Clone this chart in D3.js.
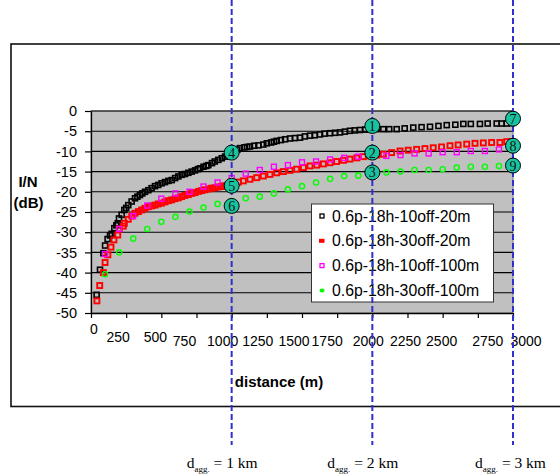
<!DOCTYPE html>
<html lang="en">
<head>
    <meta charset="UTF-8">
    <title>I/N vs distance</title>
    <script src="https://d3js.org/d3.v7.min.js"></script>
    <style>
        body { margin: 0; background: #fff; }
        text { font-family: "Liberation Sans", Arial, sans-serif; }
    </style>
</head>
<body>
</body>

<script>
    // series: distance (m) and I/N (dB)
    var blackDist = [40, 64, 88, 100, 118, 135, 147, 166, 180, 190, 199, 218, 237, 250, 265, 289, 313, 330, 348, 365,
        384, 408, 431, 455, 478, 502, 526, 550, 574, 598, 621, 645, 668, 692, 716, 740, 760, 775, 800, 820,
        834, 860, 880, 905, 930, 953, 975, 1000, 1020, 1040, 1059, 1090, 1110, 1130, 1160, 1190, 1225, 1250, 1280, 1300,
        1320, 1350, 1380, 1415, 1450, 1486, 1520, 1557, 1590, 1628, 1660, 1699, 1735, 1770, 1805, 1841, 1875, 1912, 1950, 1980,
        2030, 2078, 2120, 2173, 2230, 2291, 2350, 2410, 2470, 2529, 2590, 2647, 2700, 2765, 2820, 2884, 2920, 2955, 2990];
    var blackIN = [-45.5, -39.3, -35.2, -33.3, -31.7, -30.8, -30.4, -29, -28.3, -27.8, -26.6, -25.7, -24.5, -24, -23.3, -22.4, -21.6, -21.2, -20.8, -20.4,
        -20, -19.6, -19.1, -18.6, -18.3, -17.9, -17.6, -17.3, -17.1, -16.6, -16.2, -15.8, -15.6, -15.3, -15, -14.7, -14.4, -14.2, -13.8, -13.6,
        -13.4, -12.9, -12.5, -12.1, -11.7, -11.3, -10.9, -10.4, -9.9, -9.6, -9.2, -9.0, -8.9, -8.8, -8.6, -8.5, -8.3, -8.0, -7.8, -7.6,
        -7.4, -7.2, -7.0, -6.8, -6.7, -6.6, -6.3, -6.1, -6.0, -5.8, -5.6, -5.5, -5.4, -5.3, -5.1, -4.9, -4.8, -4.7, -4.6, -4.5,
        -4.5, -4.5, -4.5, -4.5, -4.3, -4.1, -4.0, -3.9, -3.7, -3.5, -3.4, -3.2, -3.2, -3.2, -3.1, -3.1, -3.1, -3.1, -3.0];

    var redDist = [42, 62, 88, 100, 120, 142, 163, 190, 201, 230, 237, 265, 290, 313, 337, 360, 384, 407, 431, 455,
        478, 502, 526, 550, 574, 598, 621, 645, 668, 692, 716, 740, 765, 787, 810, 835, 858, 882, 905, 929,
        952, 976, 1000, 1012, 1048, 1083, 1130, 1178, 1225, 1272, 1320, 1367, 1415, 1462, 1510, 1557, 1605, 1652, 1700, 1746,
        1795, 1841, 1890, 1936, 1985, 2031, 2078, 2137, 2197, 2255, 2315, 2374, 2433, 2492, 2552, 2610, 2671, 2730, 2789, 2848,
        2907, 2955, 2990];
    var redIN = [-47, -43.2, -40, -37.5, -35.6, -33.7, -31.9, -30.7, -29.2, -28.5, -27.8, -26.8, -26, -25.3, -24.9, -24.5, -24.1, -23.7, -23.5, -23.3,
        -23.0, -22.8, -22.5, -22.2, -22, -21.7, -21.5, -21.2, -20.9, -20.7, -20.4, -20.2, -19.9, -19.7, -19.5, -19.3, -19.1, -19.0, -18.8, -18.7,
        -18.5, -18.3, -18.1, -17.9, -17.6, -17.3, -16.9, -16.5, -16.1, -15.7, -15.3, -15, -14.7, -14.4, -14.0, -13.6, -13.4, -13.1, -12.8, -12.5,
        -12.2, -11.9, -11.6, -11.3, -11.1, -10.9, -10.7, -10.3, -9.9, -9.7, -9.5, -9.3, -9.1, -8.9, -8.6, -8.4, -8.2, -8.0, -7.9, -7.8,
        -7.8, -7.6, -7.6];

    var magentaDist = [100, 200, 300, 400, 500, 600, 700, 800, 900, 1000, 1100, 1200, 1300, 1400, 1500,
        1600, 1700, 1800, 1900, 2000, 2100, 2200, 2300, 2400, 2500, 2600, 2700, 2800, 2900];
    var magentaIN = [-35.4, -29.2, -26, -23.4, -21.7, -20.4, -20, -18.7, -17.7, -16.6, -15.5, -14.6, -13.8, -13.4, -12.7,
        -12.5, -12, -11.6, -11.3, -11.2, -11.1, -10.9, -10.5, -10.5, -10.2, -10.2, -9.9, -9.9, -9.5];

    var greenDist = [100, 200, 300, 400, 500, 600, 700, 800, 900, 1000, 1100, 1200, 1300, 1400, 1500,
        1600, 1700, 1800, 1900, 2000, 2100, 2200, 2300, 2400, 2500, 2600, 2700, 2800, 2900];
    var greenIN = [-40.4, -35, -31.6, -29.2, -27.4, -26.2, -24.9, -23.9, -23, -22.3, -21.6, -21.2, -20.4, -19.4, -18.6,
        -17.7, -16.8, -16.1, -16, -15.5, -15.2, -15, -14.6, -14.6, -14.4, -14, -13.8, -13.8, -13.6];

    var seriesNames = ["0.6p-18h-10off-20m", "0.6p-18h-30off-20m", "0.6p-18h-10off-100m", "0.6p-18h-30off-100m"];

    var xTicks = [0, 250, 500, 750, 1000, 1250, 1500, 1750, 2000, 2250, 2500, 2750, 3000];
    var yTicks = [0, -5, -10, -15, -20, -25, -30, -35, -40, -45, -50];

    // aggregation distance markers (km) and numbered callouts
    var aggKm = [1, 2, 3];
    var calloutNum = [1, 2, 3, 4, 5, 6, 7, 8, 9];
    var calloutDist = [2000, 2000, 2000, 1000, 1000, 1000, 3000, 3000, 3000];
    var calloutIN = [-3.7, -10.3, -15.2, -10.3, -18.5, -23.5, -1.9, -8.6, -13.5];

    var width = 560, height = 476;
    var plot = {left: 91, right: 513, top: 111, bottom: 313};

    var svg = d3.select("body").append("svg")
        .attr("width", width)
        .attr("height", height);

    // outer chart frame
    svg.append("rect")
        .attr("x", 11).attr("y", 44)
        .attr("width", 560).attr("height", 362.5)
        .attr("fill", "#fff")
        .attr("stroke", "#111")
        .attr("stroke-width", 1.6);

    var x = d3.scaleLinear().domain([0, 3000]).range([plot.left, plot.right]);
    var y = d3.scaleLinear().domain([-50, 0]).range([plot.bottom, plot.top]);

    // plot area
    svg.append("rect")
        .attr("x", plot.left).attr("y", plot.top)
        .attr("width", plot.right - plot.left).attr("height", plot.bottom - plot.top)
        .attr("fill", "#c0c0c0")
        .attr("stroke", "#808080")
        .attr("stroke-width", 1);

    svg.append("g").selectAll("line")
        .data(yTicks.filter(function (d) { return d !== -50; }))
        .enter().append("line")
        .attr("x1", plot.left).attr("x2", plot.right)
        .attr("y1", function (d) { return y(d); })
        .attr("y2", function (d) { return y(d); })
        .attr("stroke", "#000")
        .attr("stroke-width", 1.1);

    // y axis
    var yAxis = svg.append("g")
        .attr("transform", "translate(" + plot.left + ",0)")
        .call(d3.axisLeft(y).tickValues(yTicks).tickSize(6).tickSizeOuter(0).tickPadding(8)
            .tickFormat(function (d) { return String(d); }));
    yAxis.selectAll("text").attr("font-size", 14.5).attr("fill", "#000")
        .style("font-family", "'Liberation Sans', Arial, sans-serif");
    yAxis.select(".domain").attr("stroke", "#000").attr("stroke-width", 1.3);
    yAxis.selectAll(".tick line").attr("stroke", "#000").attr("stroke-width", 1.2);

    // x axis with Excel-like scattered labels
    var xAxis = svg.append("g")
        .attr("transform", "translate(0," + plot.bottom + ")")
        .call(d3.axisBottom(x).tickValues(xTicks).tickSize(5).tickSizeOuter(0).tickFormat(""));
    xAxis.select(".domain").attr("stroke", "#000").attr("stroke-width", 1.3);
    xAxis.selectAll(".tick line").attr("stroke", "#000").attr("stroke-width", 1.2);

    var labelDx = [3, -8, -6, -12, -9, -9, -8, -10, -4, -2, -1, 10, 13];
    var labelY = [334, 342, 342, 346, 346, 346, 346, 346, 346, 346, 346, 346, 346];
    svg.append("g").selectAll("text")
        .data(xTicks)
        .enter().append("text")
        .attr("x", function (d, i) { return x(d) + labelDx[i]; })
        .attr("y", function (d, i) { return labelY[i]; })
        .attr("text-anchor", "middle")
        .attr("font-size", 14)
        .text(function (d) { return d; });

    // axis titles
    var yTitle = svg.append("text")
        .attr("text-anchor", "middle")
        .attr("font-size", 15)
        .attr("font-weight", "bold");
    yTitle.append("tspan").attr("x", 28).attr("y", 187).text("I/N");
    yTitle.append("tspan").attr("x", 28.5).attr("y", 208).text("(dB)");

    svg.append("text")
        .attr("x", 279).attr("y", 387)
        .attr("text-anchor", "middle")
        .attr("font-size", 15)
        .attr("font-weight", "bold")
        .text("distance (m)");

    // series
    function zip(ds, vs) {
        return ds.map(function (d, i) { return {d: d, v: vs[i]}; });
    }

    function squares(data, color, size, sw) {
        svg.append("g").selectAll("rect")
            .data(data)
            .enter().append("rect")
            .attr("x", function (p) { return x(p.d) - size / 2; })
            .attr("y", function (p) { return y(p.v) - size / 2; })
            .attr("width", size).attr("height", size)
            .attr("fill", "none")
            .attr("stroke", color)
            .attr("stroke-width", sw);
    }

    squares(zip(blackDist, blackIN), "#000", 5, 1.6);
    squares(zip(redDist, redIN), "#ff0000", 5, 1.9);
    squares(zip(magentaDist, magentaIN), "#ff00ff", 5, 1.4);

    svg.append("g").selectAll("circle")
        .data(zip(greenDist, greenIN))
        .enter().append("circle")
        .attr("cx", function (p) { return x(p.d); })
        .attr("cy", function (p) { return y(p.v); })
        .attr("r", 2.6)
        .attr("fill", "none")
        .attr("stroke", "#00ff00")
        .attr("stroke-width", 1.4);

    // legend
    var legend = svg.append("g");
    legend.append("rect")
        .attr("x", 311.5).attr("y", 204)
        .attr("width", 182).attr("height", 98)
        .attr("fill", "#fff")
        .attr("stroke", "#333")
        .attr("stroke-width", 1);

    seriesNames.forEach(function (name, i) {
        var cy = 216 + i * 24.8;
        if (i === 3) {
            legend.append("ellipse").attr("cx", 322).attr("cy", cy)
                .attr("rx", 2.5).attr("ry", 2).attr("fill", "#00ff00");
        } else if (i === 1) {
            legend.append("rect").attr("x", 319).attr("y", cy - 2)
                .attr("width", 5.5).attr("height", 4).attr("fill", "#ff0000");
        } else {
            legend.append("rect").attr("x", 320).attr("y", cy - 2)
                .attr("width", 4).attr("height", 4)
                .attr("fill", "none")
                .attr("stroke", i === 0 ? "#000" : "#ff00ff")
                .attr("stroke-width", 1.3);
        }
        legend.append("text")
            .attr("x", 332).attr("y", cy + 5.5)
            .attr("font-size", 15.8)
            .text(name);
    });

    // aggregation distance guides
    svg.append("g").selectAll("line")
        .data(aggKm)
        .enter().append("line")
        .attr("x1", function (k) { return x(k * 1000); })
        .attr("x2", function (k) { return x(k * 1000); })
        .attr("y1", 0).attr("y2", 445)
        .attr("stroke", "#3030cc")
        .attr("stroke-width", 2)
        .attr("stroke-dasharray", "6,3");

    var aggDx = [-45, -45, -38];
    var agg = svg.append("g").selectAll("text")
        .data(aggKm)
        .enter().append("text")
        .attr("x", function (k, i) { return x(k * 1000) + aggDx[i]; })
        .attr("y", 468)
        .attr("font-size", 15.5)
        .style("font-family", "'Liberation Serif', 'Times New Roman', serif");
    agg.append("tspan").text("d");
    agg.append("tspan").attr("font-size", 9).attr("dy", 4).text("agg.");
    agg.append("tspan").attr("dy", -4).text(function (k) { return " = " + k + " km"; });

    // numbered callouts
    var callouts = svg.append("g").selectAll("g")
        .data(calloutNum)
        .enter().append("g")
        .attr("transform", function (n, i) {
            return "translate(" + x(calloutDist[i]) + "," + y(calloutIN[i]) + ")";
        });
    callouts.append("circle")
        .attr("r", 7.5)
        .attr("fill", "#19c39f")
        .attr("stroke", "#000")
        .attr("stroke-width", 1);
    callouts.append("text")
        .attr("text-anchor", "middle")
        .attr("y", 5)
        .attr("font-size", 14)
        .style("font-family", "'Liberation Serif', 'Times New Roman', serif")
        .attr("fill", "#111")
        .text(function (n) { return n; });
</script>
</html>
